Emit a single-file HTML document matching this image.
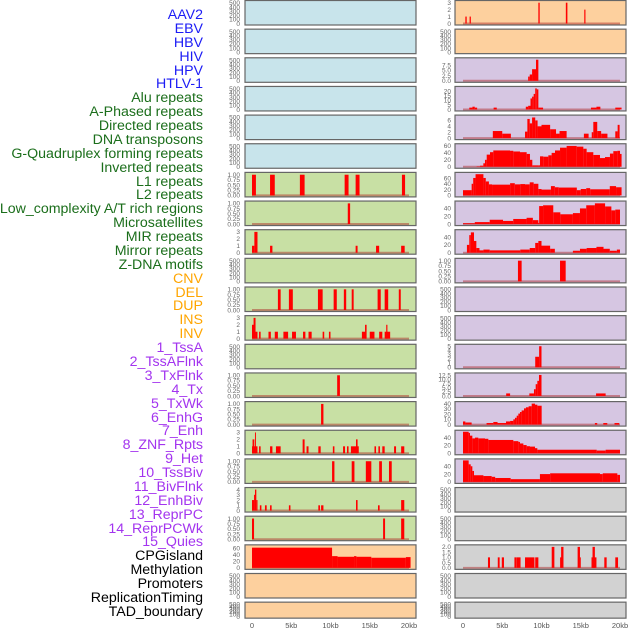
<!DOCTYPE html>
<html><head><meta charset="utf-8">
<style>
html,body{margin:0;padding:0;background:#fff;width:630px;height:630px;overflow:hidden}
#labels{position:absolute;left:0;top:0;width:203px;font-family:"Liberation Sans",sans-serif;font-size:14.2px;text-align:right}
#labels div{position:absolute;right:0;white-space:nowrap;line-height:14px}
svg{position:absolute;left:0;top:0}
</style></head><body>
<div id="labels"></div>
<svg id="chart" width="630" height="630"></svg>
<script>
// ---------- labels ----------
const labelNames = ["AAV2","EBV","HBV","HIV","HPV","HTLV-1","Alu repeats","A-Phased repeats","Directed repeats","DNA transposons","G-Quadruplex forming repeats","Inverted repeats","L1 repeats","L2 repeats","Low_complexity A/T rich regions","Microsatellites","MIR repeats","Mirror repeats","Z-DNA motifs","CNV","DEL","DUP","INS","INV","1_TssA","2_TssAFlnk","3_TxFlnk","4_Tx","5_TxWk","6_EnhG","7_Enh","8_ZNF_Rpts","9_Het","10_TssBiv","11_BivFlnk","12_EnhBiv","13_ReprPC","14_ReprPCWk","15_Quies","CPGisland","Methylation","Promoters","ReplicationTiming","TAD_boundary"];
const labelGroups = [6,13,5,15,5];
const groupColors = ["#1c1cf5","#1b6e1b","#ffa500","#a334ef","#000000"];

// ---------- data: segments [startKb, endKb, value] ----------
const L6 = [[0,0.5,1],[2.3,2.9,1],[6.1,6.7,1],[11.8,12.3,1],[13.2,13.7,1],[19.1,19.5,1]];
const L7 = [[12.2,12.5,1]];
const L8 = [[0,0.3,1],[0.3,0.7,3],[2.3,2.6,1],[13.2,13.45,1],[15.8,16.2,1],[19.0,19.45,1]];
const L10 = [[3.3,3.65,1],[4.7,5.2,1],[8.4,9.0,1],[10.4,10.8,1],[11.7,12.0,1],[12.7,12.95,1],[16.0,16.4,1],[16.9,17.35,1],[18.7,18.95,1]];
const L11 = [[0,0.3,2],[0.2,0.45,3],[0.45,0.7,1],[0.9,1.1,1],[2.1,2.4,1],[2.9,3.3,1],[4.0,4.6,1],[5.1,5.6,1],[6.5,6.8,1],[7.2,7.6,1],[9.0,9.2,1],[9.8,10.0,1],[14.0,14.5,1],[14.4,14.6,2],[15.0,15.6,1],[16.2,16.6,1],[16.9,17.6,1],[17.1,17.25,2]];
const L13 = [[10.85,11.2,1]];
const L14 = [[8.8,9.1,1]];
const L15 = [[0,0.7,1],[0.07,0.3,2],[0.38,0.5,3],[0.9,1.1,1],[2.3,2.6,1],[3.05,3.65,1],[6.45,6.7,2],[6.95,7.2,1],[8.45,8.75,1],[10.3,10.5,1],[11.6,11.85,1],[12.1,12.3,1],[12.6,13.6,1],[13.25,13.45,2],[15.6,15.8,1],[16.1,16.3,1],[16.6,16.9,1],[18.1,18.35,1],[19.0,19.4,1]];
const L16 = [[10.2,10.5,1],[12.7,13.05,1],[14.5,15.2,1],[16.2,16.55,1],[17.45,17.8,1]];
const L17 = [[0,0.26,2],[0.26,0.38,3],[0.38,0.55,4],[0.55,0.7,2],[1.0,1.2,1],[1.65,1.87,1],[2.3,2.5,1],[4.7,4.9,1],[8.45,8.66,1],[8.8,9.1,1],[13.25,13.45,2],[16.05,16.26,1],[19.0,19.4,2]];
const L18 = [[0,0.26,1],[16.7,16.95,1],[19.0,19.4,1]];
const L19 = [[0,10.2,62],[10.2,10.9,36],[10.9,13.0,34],[13.0,13.3,36],[13.3,15.2,34],[15.2,19.6,31],[19.6,20.2,33]];

const R0 = [[0.3,0.47,1],[0.84,1.0,1],[9.6,9.77,3],[13.1,13.3,3],[15.45,15.6,2]];
const R2 = [[8.3,8.5,2],[8.5,8.8,3],[8.8,9.3,5.5],[9.3,9.6,10]];
const R3 = [[0.8,1.2,2],[1.2,1.5,3],[1.5,1.8,2],[3.9,4.3,2],[8.0,8.3,3],[8.3,8.6,4],[8.6,8.8,12],[8.8,9.0,14],[9.0,9.2,17],[9.2,9.4,23],[9.4,9.6,22],[9.6,10.2,2],[16.3,17.0,2],[17.0,17.5,3],[19.4,20.2,2]];
const R4 = [[3.8,5.0,2.4],[5.0,6.1,1.5],[7.9,8.2,2.2],[8.2,8.5,6.5],[8.5,8.8,5],[8.8,9.2,7],[9.2,9.5,6],[9.5,10.0,4],[10.0,11.1,4.5],[11.1,11.85,3],[11.85,12.3,1.5],[12.3,13.2,2.4],[15.4,16.0,1.5],[16.4,16.6,2],[16.6,17.1,5.5],[17.1,17.6,2.4],[17.6,18.4,1.5],[19.4,19.7,2.3],[19.7,19.95,4.5]];
const R5 = [[1.74,2.17,1],[2.17,2.59,3],[2.59,2.8,10],[2.8,3.02,20],[3.02,3.44,35],[3.44,3.86,42],[3.86,5.99,47],[5.99,6.41,46],[6.41,7.26,44],[7.26,8.11,42],[8.11,8.53,37],[8.53,8.83,20],[8.83,9.6,4],[9.6,9.81,4],[9.81,10.23,30],[10.23,10.87,29],[10.87,11.29,33],[11.29,11.72,40],[11.72,12.36,47],[12.36,13.2,55],[13.2,14.48,60],[14.48,15.33,58],[15.33,15.75,52],[15.75,16.6,42],[16.6,17.45,34],[17.45,18.09,25],[18.09,18.72,28],[18.72,19.15,38],[19.15,19.66,45],[19.66,20.0,46],[20.0,20.2,37]];
const R6 = [[0,1.1,18],[1.1,1.3,40],[1.3,1.6,60],[1.6,2.6,73],[2.6,2.9,60],[2.9,3.3,48],[3.3,3.7,38],[3.7,6.0,37],[6.0,6.6,42],[6.6,7.3,38],[7.3,7.9,39],[7.9,8.5,38],[8.5,9.0,45],[9.0,9.6,40],[9.6,10.0,22],[10.0,11.2,20],[11.2,11.7,32],[11.7,12.2,28],[12.2,14.5,27],[14.5,15.0,18],[15.0,15.7,22],[15.7,16.2,25],[16.2,18.7,21],[18.7,19.5,32],[19.5,20.2,28]];
const R7 = [[0,1.5,2],[1.5,3.4,5],[3.4,5.1,11],[5.1,6.4,8],[6.4,8.1,13],[8.1,8.9,16],[8.9,9.6,10],[9.6,9.7,3],[9.7,10.2,46],[10.2,11.5,48],[11.5,12.4,30],[12.4,14.0,25],[14.0,14.9,28],[14.9,15.7,40],[15.7,16.8,48],[16.8,18.1,53],[18.1,18.9,45],[18.9,19.4,35],[19.4,20.0,37]];
const R8 = [[0.5,0.8,20],[0.8,1.0,45],[1.0,1.4,52],[1.4,1.7,30],[1.7,2.1,12],[2.1,2.6,6],[2.6,3.4,8],[3.4,7.3,6],[7.3,8.5,8],[8.5,9.2,12],[9.2,9.6,25],[9.6,10.0,30],[10.0,11.1,18],[11.1,11.7,10],[14.0,14.9,5],[14.9,15.75,10],[15.75,17.0,12],[17.0,17.9,15],[17.9,18.7,10],[18.7,19.6,5],[19.6,20.0,8]];
const R9 = [[7.0,7.47,1],[12.36,13.08,1]];
const R12 = [[9.2,9.7,2.5],[9.7,10.0,5]];
const R13 = [[5.5,6.0,1.5],[8.45,9.04,1.5],[9.04,9.26,4],[9.26,9.47,7],[9.47,9.68,9],[9.68,10.0,12.5],[16.95,18.17,1.5]];
const R14 = [[0,0.3,6],[0.3,1.1,4],[3.0,3.86,3],[3.86,4.4,5],[4.4,5.48,3],[5.48,6.0,6],[6.0,6.41,7],[6.41,6.62,10],[6.62,6.84,13],[6.84,7.05,17],[7.05,7.26,21],[7.26,7.47,24],[7.47,7.77,27],[7.77,8.02,31],[8.02,8.36,33],[8.36,8.75,35],[8.75,9.17,40],[9.17,9.47,38],[9.47,10.02,36],[16.8,17.1,3],[17.87,18.38,3],[19.3,19.9,3]];
const R15 = [[0,0.72,55],[0.72,0.89,52],[0.89,1.19,45],[1.19,1.53,38],[1.53,1.95,40],[1.95,2.8,38],[2.8,3.23,37],[3.23,6.41,34],[6.41,7.05,31],[7.05,7.26,29],[7.26,7.69,25],[7.69,8.11,21],[8.11,8.53,18],[8.53,9.17,17],[9.17,9.47,13],[9.47,17.03,9],[17.03,18.17,7],[18.17,20.0,9]];
const R16 = [[0,0.72,55],[0.72,0.98,45],[0.98,1.19,40],[1.19,1.4,28],[1.4,2.6,17],[2.6,3.65,15],[3.65,4.1,13],[4.1,6.07,10],[6.07,9.8,7],[9.8,11.1,20],[11.1,17.45,22],[17.45,17.8,20],[17.8,19.66,22],[19.66,20.0,18]];
const R19 = [[3.18,3.44,1],[4.43,4.67,1],[4.94,5.22,1],[6.55,6.85,1],[6.87,7.33,1],[7.9,9.1,1],[9.2,9.6,1],[11.3,11.64,2],[12.37,12.57,1],[12.5,12.8,2],[14.6,14.9,2],[14.9,15.0,1],[16.37,17.0,1],[16.5,16.8,2],[18.0,18.3,1],[19.4,19.75,1]];

// ---------- tick label arrays ----------
const ticksEmpty = ["0","100","200","300","400","500"];
const ticksUnit = ["0.00","0.25","0.50","0.75","1.00"];
const ticks3 = ["0","1","2","3"];
const ticks4 = ["0","1","2","3","4"];
const ticks5 = ["0","1","2","3","4","5"];
const ticks60 = ["0","20","40","60"];
const ticks40 = ["0","20","40"];
const ticksR2 = ["0.0","2.5","5.0","7.5"];
const ticksR3 = ["0","5","10","15","20"];
const ticksR4 = ["0","2","4","6"];
const ticksR13 = ["0.0","2.5","5.0","7.5","10.0","12.5"];
const ticksR14 = ["0","10","20","30","40"];
const ticksR19 = ["0.0","0.5","1.0","1.5","2.0"];
const xTickKb = [0,5,10,15,20];
const xTickLabels = ["0","5kb","10kb","15kb","20kb"];

// panel configuration: [data, ticks, ylimTop]
const leftPanels = [null,null,null,null,null,null,[L6,ticksUnit,1.04],[L7,ticksUnit,1.04],[L8,ticks3,3.1],null,[L10,ticksUnit,1.04],[L11,ticks3,3.1],null,[L13,ticksUnit,1.04],[L14,ticksUnit,1.04],[L15,ticks3,3.1],[L16,ticksUnit,1.04],[L17,ticks4,4.1],[L18,ticksUnit,1.04],[L19,ticks60,66],null,null];
const rightPanels = [[R0,ticks3,3.1],null,[R2,ticksR2,10.2],[R3,ticksR3,23.5],[R4,ticksR4,7.3],[R5,ticks60,62],[R6,ticks60,74],[R7,ticks40,55],[R8,ticks40,55],[R9,ticksUnit,1.04],null,null,[R12,ticks5,5.1],[R13,ticksR13,12.8],[R14,ticksR14,41],[R15,ticks40,55],[R16,ticks40,55],null,null,[R19,ticksR19,2.05],null,null];
const leftBg = ["#c8e4eb","#c8e4eb","#c8e4eb","#c8e4eb","#c8e4eb","#c8e4eb","#c8e0a4","#c8e0a4","#c8e0a4","#c8e0a4","#c8e0a4","#c8e0a4","#c8e0a4","#c8e0a4","#c8e0a4","#c8e0a4","#c8e0a4","#c8e0a4","#c8e0a4","#fdd09e","#fdd09e","#fdd09e"];
const rightBg = ["#fdd09e","#fdd09e","#d6c6e2","#d6c6e2","#d6c6e2","#d6c6e2","#d6c6e2","#d6c6e2","#d6c6e2","#d6c6e2","#d6c6e2","#d6c6e2","#d6c6e2","#d6c6e2","#d6c6e2","#d6c6e2","#d6c6e2","#d2d2d2","#d2d2d2","#d2d2d2","#d2d2d2","#d2d2d2"];

// ---------- labels render ----------
const lab = document.getElementById('labels');
let gi = 0, gc = 0;
labelNames.forEach((t, i) => {
  const d = document.createElement('div');
  
  
  d.textContent = t;
  d.style.top = (8 + i * 13.88) + 'px';
  d.style.color = groupColors[gi];
  gc++;
  if (gc >= labelGroups[gi]) { gi++; gc = 0; }
  lab.appendChild(d);
});

// ---------- chart ----------
const NS = 'http://www.w3.org/2000/svg';
const svg = document.getElementById('chart');
function mk(tag, attrs, parent) {
  const e = document.createElementNS(NS, tag);
  for (const k in attrs) e.setAttribute(k, attrs[k]);
  (parent || svg).appendChild(e);
  return e;
}
const cols = [{x0: 245, x1: 416, zero: 252, panels: leftPanels, bg: leftBg, tx: 240, side: 'left'},
              {x0: 455, x1: 626, zero: 463, panels: rightPanels, bg: rightBg, tx: 451, side: 'right'}];
const KB = 7.85;
function rowTop(i) { return 0.5 + i * 28.65; }
function rowH(i) { return i === 21 ? 16 : 24.5; }

cols.forEach(c => {
  const xs = kb => c.zero + kb * KB;
  for (let i = 0; i < 22; i++) {
    const top = rowTop(i), h = rowH(i);
    const g = mk('g', {});
    
    
    const bg = mk('rect', {x: c.x0, y: top, width: c.x1 - c.x0, height: h, fill: c.bg[i]}, g);
    
    
    const p = c.panels[i];
    const ticks = p ? p[1] : ticksEmpty;
    const ymax = p ? p[2] : 520;
    const ys = v => top + h - 1.5 - (v / ymax) * (h - 3);
    ticks.forEach(t => {
      const tt = mk('text', {x: c.tx, y: ys(parseFloat(t)) + 2.3, 'font-size': 6.5, fill: '#666', 'text-anchor': 'end', 'font-family': 'Liberation Sans, sans-serif'}, g);
      
      
      tt.textContent = t;
    });
    if (p) {
      const base = mk('line', {x1: xs(0), x2: xs(20), y1: ys(0), y2: ys(0), stroke: 'rgba(170,30,30,0.45)', 'stroke-width': 2}, g);
      
      
      p[0].forEach(s => {
        const r = mk('rect', {x: xs(s[0]), y: ys(s[2]), width: Math.max(0.8, xs(s[1]) - xs(s[0])), height: ys(0) - ys(s[2]), fill: '#ff0000'}, g);
        
        
      });
    }
    const br = mk('rect', {x: c.x0, y: top, width: c.x1 - c.x0, height: h, fill: 'none', stroke: '#666', 'stroke-width': 1.2}, g);
    
    
  }
  xTickKb.forEach((k, j) => {
    const t = mk('text', {x: xs(k), y: 628, 'font-size': 7.5, fill: '#555', 'text-anchor': 'middle', 'font-family': 'Liberation Sans, sans-serif'});
    
    
    t.textContent = xTickLabels[j];
  });
});
</script>
</body></html>
